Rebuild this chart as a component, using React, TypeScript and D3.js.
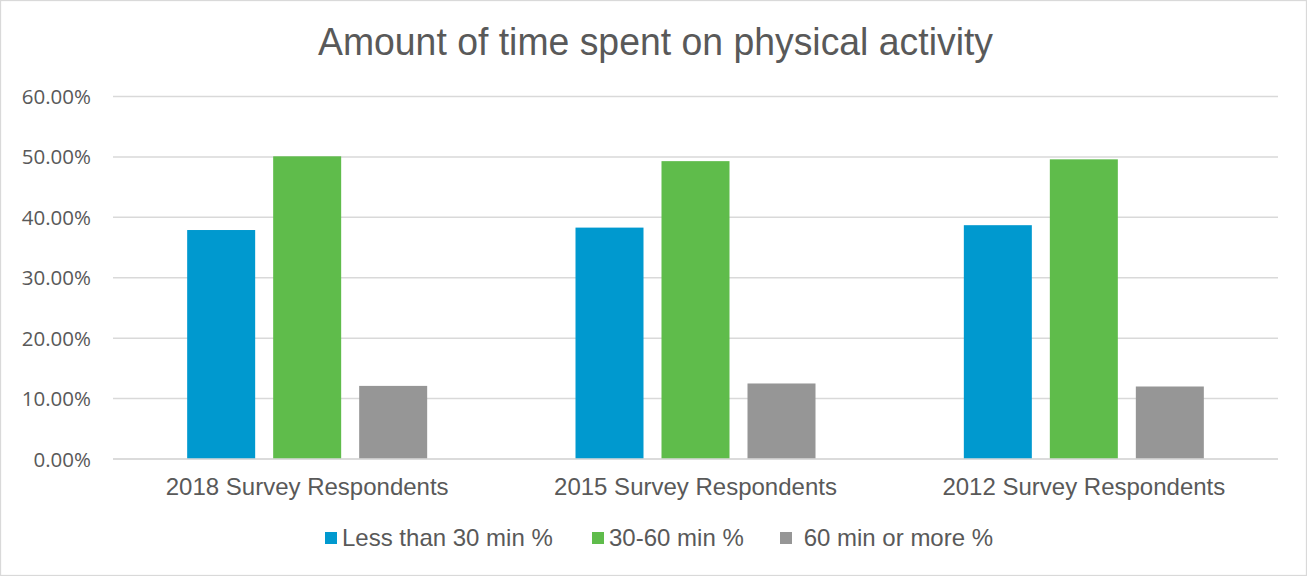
import React from "react";
import * as d3 from "d3";

const categories = ["2018 Survey Respondents", "2015 Survey Respondents", "2012 Survey Respondents"];
const seriesNames = ["Less than 30 min %", "30-60 min %", " 60 min or more %"];
const lessThan30 = [0.379, 0.383, 0.387];
const from30to60 = [0.501, 0.493, 0.496];
const over60 = [0.121, 0.125, 0.120];
const seriesValues = [lessThan30, from30to60, over60];
const yTicks = [0, 0.1, 0.2, 0.3, 0.4, 0.5, 0.6];
const chartTitle = "Amount of time spent on physical activity";

const COLORS = ["#0099CF", "#5FBC4B", "#969696"];
const TEXT = "#595959";
const GRID = "#D9D9D9";
const W = 1307;
const H = 576;
const LEGEND_X = [325, 592, 780];

export default function App() {
  const x = d3.scaleBand<string>().domain(categories).range([113, 1278]).padding(0);
  const groupW = 240;
  const inner = d3
    .scaleBand<number>()
    .domain([0, 1, 2])
    .range([0, groupW])
    .paddingInner(18 / 86)
    .paddingOuter(0);
  const y = d3.scaleLinear().domain([0, 0.6]).range([459, 96.5]);
  const fmt = d3.format(".2%");

  return (
    <div style={{ position: "absolute", left: 0, top: 0 }}>
      <svg width={W} height={H} style={{ display: "block", background: "#fff" }}>
        <rect x={0.5} y={0.5} width={W - 1} height={H - 1} fill="#fff" stroke={GRID} strokeWidth={1.3} />
        <text
          x={318}
          y={55}
          fontFamily="'Liberation Sans', Arial, sans-serif"
          fontSize={38.5}
          fill={TEXT}
          textLength={675}
          lengthAdjust="spacingAndGlyphs"
        >
          {chartTitle}
        </text>
        {yTicks.map((t) => (
          <g key={t}>
            <line x1={113} x2={1278} y1={y(t)} y2={y(t)} stroke={GRID} strokeWidth={1.5} />
            <text
              x={91}
              y={y(t) + 7.5}
              textAnchor="end"
              fontFamily="'Open Sans', sans-serif"
              fontSize={20.5}
              fill={TEXT}
            >
              {fmt(t)}
            </text>
          </g>
        ))}
        {categories.map((c, ci) => {
          const gx = (x(c) as number) + x.bandwidth() / 2 - groupW / 2;
          return (
            <g key={c}>
              {seriesValues.map((vals, si) => (
                <rect
                  key={si}
                  x={gx + (inner(si) as number)}
                  y={y(vals[ci])}
                  width={inner.bandwidth()}
                  height={y(0) - y(vals[ci])}
                  fill={COLORS[si]}
                />
              ))}
              <text
                x={(x(c) as number) + x.bandwidth() / 2}
                y={495}
                textAnchor="middle"
                fontFamily="'Liberation Sans', Arial, sans-serif"
                fontSize={24}
                fill={TEXT}
              >
                {c}
              </text>
            </g>
          );
        })}
        <line x1={113} x2={1278} y1={y(0)} y2={y(0)} stroke={GRID} strokeWidth={1.5} />
        {seriesNames.map((s, i) => (
          <g key={s}>
            <rect x={LEGEND_X[i]} y={532} width={12} height={12} fill={COLORS[i]} />
            <text
              x={LEGEND_X[i] + 17}
              y={546}
              fontFamily="'Liberation Sans', Arial, sans-serif"
              fontSize={24}
              fill={TEXT}
              style={{ whiteSpace: "pre" }}
            >
              {s}
            </text>
          </g>
        ))}
      </svg>
    </div>
  );
}
